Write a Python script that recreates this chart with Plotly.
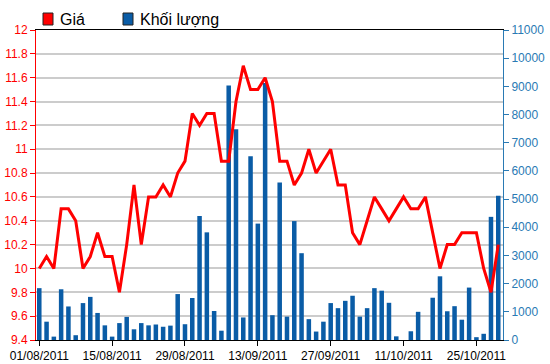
import plotly.graph_objects as go

dates = [
    "01/08/2011", "02/08/2011", "03/08/2011", "04/08/2011", "05/08/2011",
    "08/08/2011", "09/08/2011", "10/08/2011", "11/08/2011", "12/08/2011",
    "15/08/2011", "16/08/2011", "17/08/2011", "18/08/2011", "19/08/2011",
    "22/08/2011", "23/08/2011", "24/08/2011", "25/08/2011", "26/08/2011",
    "29/08/2011", "30/08/2011", "31/08/2011", "01/09/2011",
    "05/09/2011", "06/09/2011", "07/09/2011", "08/09/2011", "09/09/2011",
    "12/09/2011", "13/09/2011", "14/09/2011", "15/09/2011", "16/09/2011",
    "19/09/2011", "20/09/2011", "21/09/2011", "22/09/2011", "23/09/2011",
    "26/09/2011", "27/09/2011", "28/09/2011", "29/09/2011", "30/09/2011",
    "03/10/2011", "04/10/2011", "05/10/2011", "06/10/2011", "07/10/2011",
    "10/10/2011", "11/10/2011", "12/10/2011", "13/10/2011", "14/10/2011",
    "17/10/2011", "18/10/2011", "19/10/2011", "20/10/2011", "21/10/2011",
    "24/10/2011", "25/10/2011", "26/10/2011", "27/10/2011", "28/10/2011",
]

price = [
    10.0, 10.1, 10.0, 10.5, 10.5, 10.4, 10.0, 10.1, 10.3, 10.1,
    10.1, 9.8, 10.2, 10.7, 10.2, 10.6, 10.6, 10.7, 10.6, 10.8,
    10.9, 11.3, 11.2, 11.3, 11.3, 10.9, 10.9, 11.4, 11.7, 11.5,
    11.5, 11.6, 11.4, 10.9, 10.9, 10.7, 10.8, 11.0, 10.8, 10.9,
    11.0, 10.7, 10.7, 10.3, 10.2, 10.4, 10.6, 10.5, 10.4, 10.5,
    10.6, 10.5, 10.5, 10.6, 10.3, 10.0, 10.2, 10.2, 10.3, 10.3,
    10.3, 10.0, 9.8, 10.2,
]

volume = [
    1840, 650, 120, 1800, 1190, 170, 1310, 1530, 960, 520,
    120, 600, 820, 380, 600, 520, 550, 470, 510, 1630,
    560, 1490, 4400, 3820, 1030, 330, 9030, 7480, 800, 6520,
    4130, 9120, 880, 5590, 830, 4220, 3080, 740, 300, 650,
    1310, 1130, 1390, 1570, 830, 1130, 1840, 1750, 1320, 130,
    0, 310, 1000, 0, 1500, 2260, 1020, 1200, 720, 1860,
    100, 220, 4370, 5120,
]

x_tick_labels = ["01/08/2011", "15/08/2011", "29/08/2011", "13/09/2011",
                 "27/09/2011", "11/10/2011", "25/10/2011"]
price_ticks = [9.4, 9.6, 9.8, 10.0, 10.2, 10.4, 10.6, 10.8, 11.0, 11.2,
               11.4, 11.6, 11.8, 12.0]
price_tick_text = ["9.4", "9.6", "9.8", "10", "10.2", "10.4", "10.6", "10.8",
                   "11", "11.2", "11.4", "11.6", "11.8", "12"]
volume_ticks = [0, 1000, 2000, 3000, 4000, 5000, 6000, 7000, 8000, 9000,
                10000, 11000]
volume_tick_text = [str(v) for v in volume_ticks]

legend_names = ["Giá", "Khối lượng"]

RED = "#ff0000"
BLUE = "#0a5ca6"
AXIS_BLUE = "#2a7ab4"
FONT = "Liberation Sans, Arial, sans-serif"

fig = go.Figure()

# volume bars on the (right-side) primary y axis, drawn first
fig.add_trace(go.Bar(
    x=dates, y=volume, yaxis="y", marker=dict(color=BLUE, line=dict(width=0)),
    name=legend_names[1],
))
# price line on overlaying left axis, drawn on top
fig.add_trace(go.Scatter(
    x=dates, y=price, yaxis="y2", mode="lines", line=dict(color=RED, width=3),
    name=legend_names[0],
))

fig.update_layout(
    width=550, height=364,
    margin=dict(l=36, r=47, t=30, b=24, autoexpand=False),
    paper_bgcolor="white", plot_bgcolor="white",
    font=dict(family=FONT, size=12, color="black"),
    bargap=0.38,
    showlegend=False,
    xaxis=dict(
        type="category", range=[-0.45, 63.65], automargin=False,
        tickmode="array", tickvals=x_tick_labels, ticktext=x_tick_labels,
        ticks="outside", ticklen=5, tickcolor="black", tickwidth=1,
        showline=True, linecolor="black", linewidth=1, mirror=True,
        showgrid=False, tickfont=dict(size=12, color="black"),
    ),
    yaxis=dict(
        range=[0, 11000], side="right", automargin=False,
        tickmode="array", tickvals=volume_ticks, ticktext=volume_tick_text,
        ticks="outside", ticklen=5, tickcolor=AXIS_BLUE, tickwidth=1,
        showline=True, linecolor=AXIS_BLUE, linewidth=1,
        showgrid=False, zeroline=False,
        tickfont=dict(size=12, color=AXIS_BLUE),
    ),
    yaxis2=dict(
        range=[9.4, 12], overlaying="y", side="left", automargin=False,
        tickmode="array", tickvals=price_ticks, ticktext=price_tick_text,
        ticks="outside", ticklen=5, tickcolor=RED, tickwidth=1,
        showline=True, linecolor=RED, linewidth=1,
        showgrid=True, gridcolor="#cccccc", gridwidth=2,
        tickfont=dict(size=12, color=RED), zeroline=False,
    ),
)

# legend drawn as swatches + text above the plot
legend_x_px = [43, 123]
legend_colors = [RED, BLUE]
W = 550 - 36 - 47
H = 364 - 30 - 24
for name, col, xp in zip(legend_names, legend_colors, legend_x_px):
    x0 = (xp - 36) / W
    x1 = (xp + 10 - 36) / W
    y0 = 1 + (30 - 25) / H
    y1 = 1 + (30 - 13) / H
    fig.add_shape(type="rect", xref="paper", yref="paper", x0=x0, x1=x1, y0=y0, y1=y1,
                  fillcolor=col, line=dict(color="#222222", width=1))
    fig.add_annotation(text=name, xref="paper", yref="paper",
                       x=(xp + 16 - 36) / W, y=1 + (30 - 19) / H,
                       xanchor="left", yanchor="middle", showarrow=False,
                       font=dict(size=16, color="black", family=FONT), borderpad=0)

fig.write_html(
    "out.html",
    config={"displayModeBar": False},
    post_script="document.body.style.margin='0';document.body.style.overflow='hidden';",
)
